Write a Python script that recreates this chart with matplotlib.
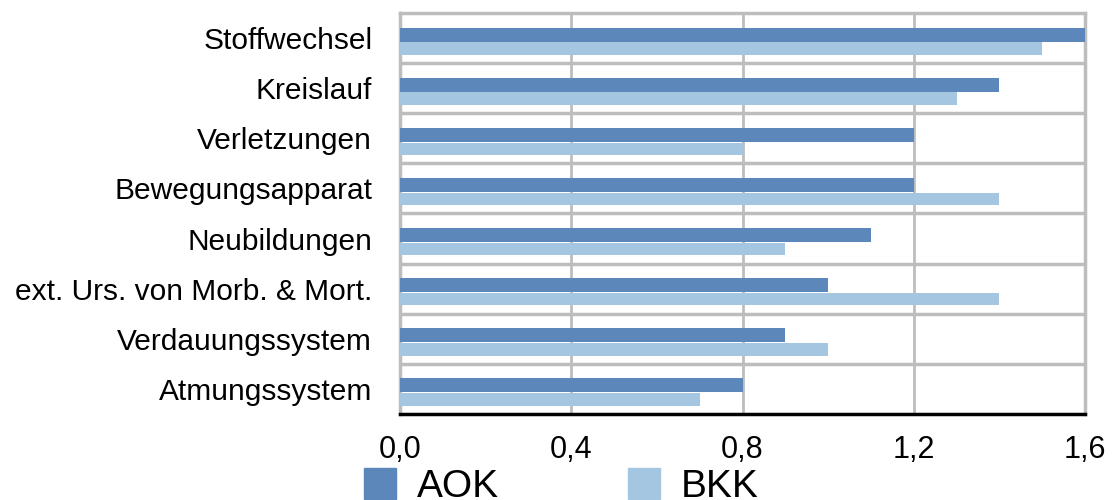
import numpy as np
import matplotlib
matplotlib.use("Agg")
import matplotlib.pyplot as plt
from matplotlib.ticker import FuncFormatter
from matplotlib.patches import Patch

plt.rcParams['font.family'] = ['Liberation Sans', 'DejaVu Sans']

categories = ["Stoffwechsel", "Kreislauf", "Verletzungen", "Bewegungsapparat",
              "Neubildungen", "ext. Urs. von Morb. & Mort.", "Verdauungssystem",
              "Atmungssystem"]
aok = [1.6, 1.4, 1.2, 1.2, 1.1, 1.0, 0.9, 0.8]
bkk = [1.5, 1.3, 0.8, 1.4, 0.9, 1.4, 1.0, 0.7]
xticks = [0.0, 0.4, 0.8, 1.2, 1.6]

c_aok = "#5b87ba"
c_bkk = "#a4c6e1"
grid_c = "#bdbdbd"

fig = plt.figure(figsize=(11.2, 5), dpi=100)
ax = fig.add_axes([400/1120, 1-414/500, 685/1120, 401/500])

y = np.arange(len(categories))
ax.barh(y - 0.07, aok, height=0.28, color=c_aok, zorder=3)
ax.barh(y + 0.21, bkk, height=0.25, color=c_bkk, zorder=3)

ax.set_xlim(0, 1.6)
ax.set_ylim(len(categories) - 0.5, -0.5)

# grid: vertical at ticks, horizontal between categories
for x in xticks[1:]:
    ax.axvline(x, color=grid_c, lw=2, zorder=1)
for b in np.arange(len(categories) - 1) + 0.5:
    ax.axhline(b, color=grid_c, lw=2.5, zorder=1)

ax.set_xticks(xticks)
ax.xaxis.set_major_formatter(FuncFormatter(lambda v, p: f"{v:.1f}".replace(".", ",")))
ax.set_yticks(y)
ax.set_yticklabels(categories)
ax.tick_params(axis='x', length=0, pad=15, labelsize=22)
ax.tick_params(axis='y', length=0, pad=20, labelsize=21.5)

for s in ["top", "left", "right"]:
    ax.spines[s].set_color(grid_c)
    ax.spines[s].set_linewidth(2.5)
ax.spines["bottom"].set_color("black")
ax.spines["bottom"].set_linewidth(2.5)
ax.spines["bottom"].set_zorder(4)

handles = [Patch(color=c_aok, label="AOK"), Patch(color=c_bkk, label="BKK")]
fig.legend(handles=handles, loc="upper left", bbox_to_anchor=(364/1120, 1-468/500),
           ncol=2, frameon=False, fontsize=28, borderpad=0, borderaxespad=0,
           handlelength=0.82, handleheight=0.85, handletextpad=0.55,
           columnspacing=3.3)

fig.savefig("out.png", dpi=100)
